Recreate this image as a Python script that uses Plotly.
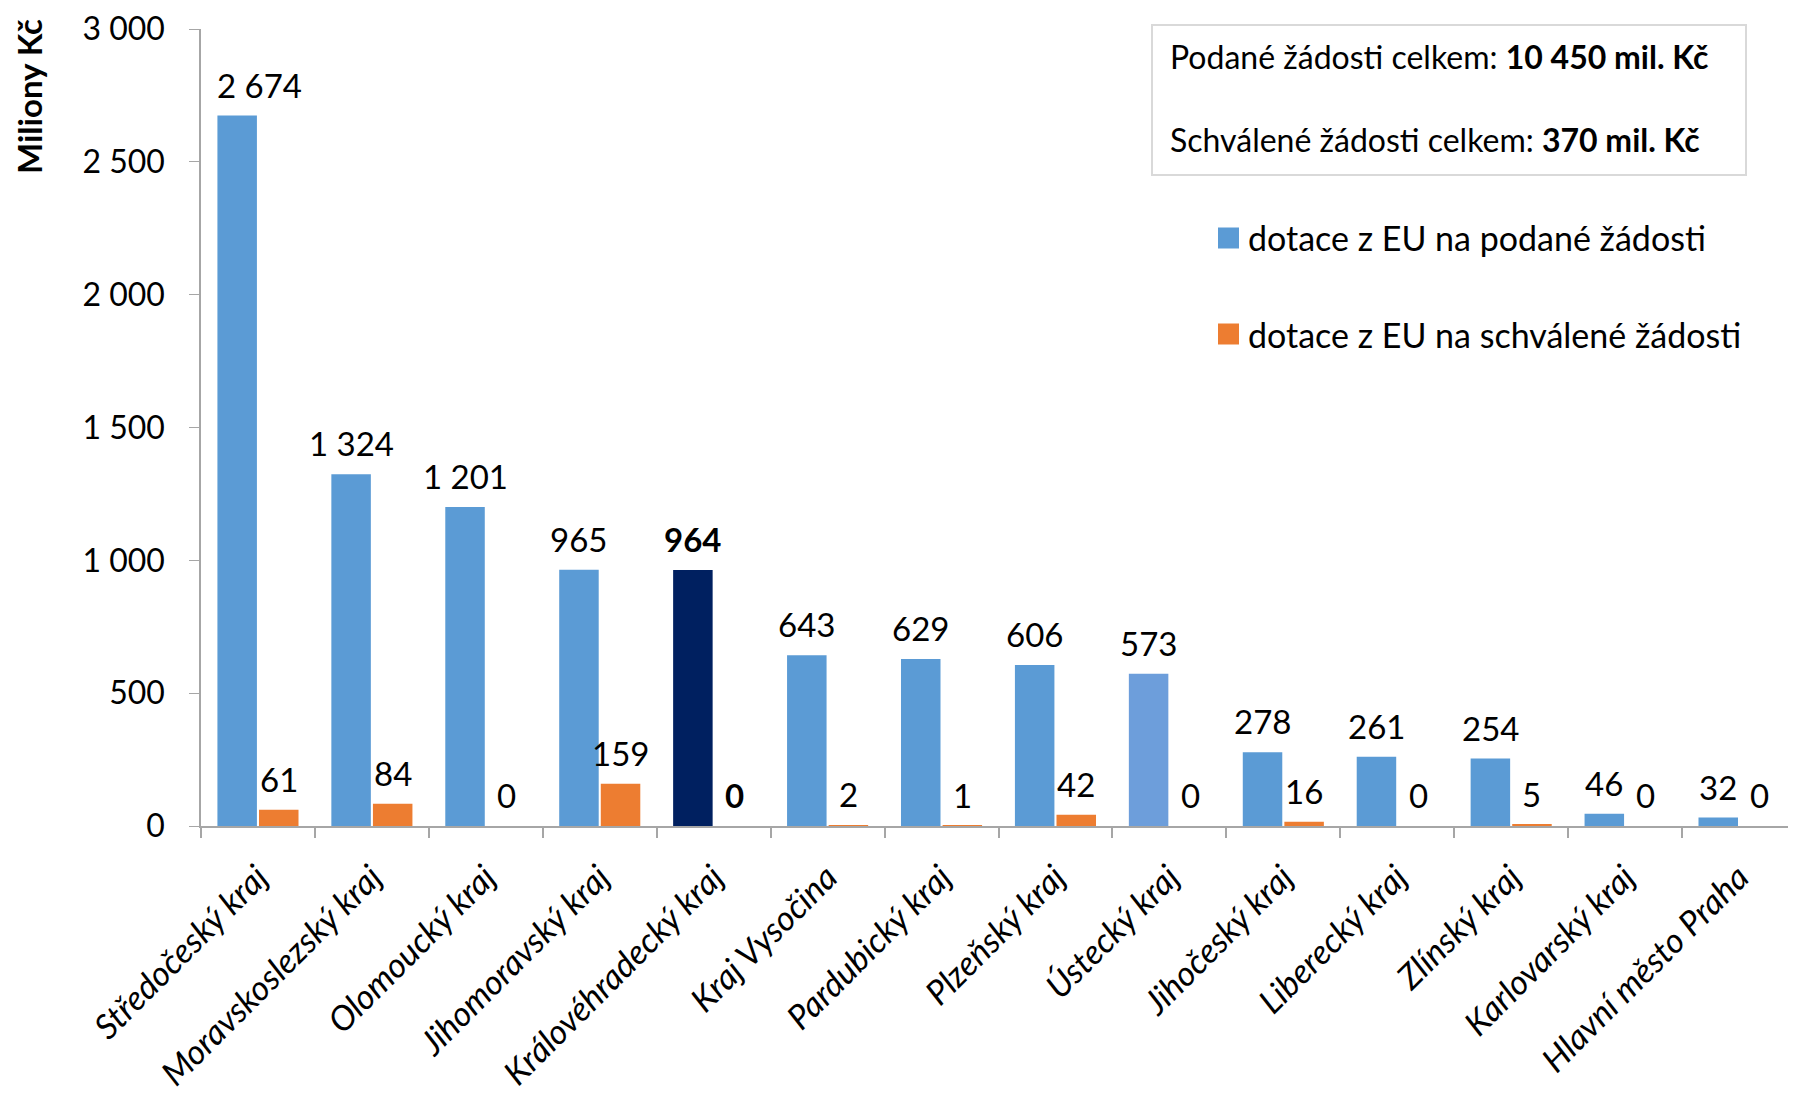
import plotly.graph_objects as go

categories = ["Středočeský kraj", "Moravskoslezský kraj", "Olomoucký kraj", "Jihomoravský kraj",
              "Královéhradecký kraj", "Kraj Vysočina", "Pardubický kraj", "Plzeňský kraj",
              "Ústecký kraj", "Jihočeský kraj", "Liberecký kraj", "Zlínský kraj",
              "Karlovarský kraj", "Hlavní město Praha"]
podane = [2674, 1324, 1201, 965, 964, 643, 629, 606, 573, 278, 261, 254, 46, 32]
schvalene = [61, 84, 0, 159, 0, 2, 1, 42, 0, 16, 0, 5, 0, 0]
tick_vals = [0, 500, 1000, 1500, 2000, 2500, 3000]
tick_text = ["0", "500", "1 000", "1 500", "2 000", "2 500", "3 000"]
series_names = ["dotace z EU na podané žádosti", "dotace z EU na schválené žádosti"]
highlight = "Královéhradecký kraj"

FONT = "Lato"
BLUE = "#5b9bd5"
ORANGE = "#ed7d31"
NAVY = "#002060"
LIGHT = "#6d9edb"
AX = "#a6a6a6"

W, H = 1796, 1100
ML, MR, MT, MB = 193, 8, 21, 282
BARGAP, GROUPGAP = 0.27, 0.05
plot_w = W - ML - MR
plot_h = H - MT - MB
cat_w = plot_w / len(categories)
slot = cat_w * (1 - BARGAP) / 2
offsets = [-slot / 2, slot / 2]


def px_x(px):
    # page-pixel x -> paper coordinate (page offset of 8 px)
    return (px - 8 - ML) / plot_w


def px_y(py):
    return (H - MB - (py - 8)) / plot_h


def fmt(v):
    return f"{v:,}".replace(",", " ")


def lab(v, c):
    s = fmt(v)
    return f"<b>{s}</b>" if c == highlight else s


blue_colors = [NAVY if c == highlight else (LIGHT if c == "Ústecký kraj" else BLUE) for c in categories]

fig = go.Figure()
fig.add_trace(go.Bar(x=categories, y=podane, name=series_names[0],
                     marker=dict(color=blue_colors, line=dict(width=0)), showlegend=False))
fig.add_trace(go.Bar(x=categories, y=schvalene, name=series_names[1],
                     marker=dict(color=ORANGE, line=dict(width=0)), showlegend=False))

# data labels
for si, (series, off) in enumerate(zip([podane, schvalene], offsets)):
    for i, (c, v) in enumerate(zip(categories, series)):
        nudge = 22 if (si == 0 and i == 0) else 0  # first label moved clear of the axis
        fig.add_annotation(x=c, y=v, text=lab(v, c), showarrow=False, xshift=off + nudge, yshift=31,
                           xanchor="center", yanchor="middle",
                           font=dict(family=FONT, size=33, color="black"))

fig.update_layout(
    width=W, height=H,
    margin=dict(l=ML, r=MR, t=MT, b=MB, autoexpand=False),
    paper_bgcolor="white", plot_bgcolor="white",
    barmode="group", bargap=BARGAP, bargroupgap=GROUPGAP,
    font=dict(family=FONT, size=30, color="black"),
    showlegend=False,
    xaxis=dict(range=[-0.5, 13.5], showline=True, linecolor=AX, linewidth=2,
               ticks="outside", tickson="boundaries", ticklen=10, tickcolor=AX, tickwidth=1.5,
               tickangle=-45, tickfont=dict(family=FONT, size=34, style="italic"),
               ticklabelstandoff=16, showgrid=False, automargin=False),
    yaxis=dict(range=[0, 3000], tickvals=tick_vals, ticktext=tick_text, showline=True,
               linecolor=AX, linewidth=1.5, ticks="outside", ticklen=10, tickcolor=AX,
               tickfont=dict(family=FONT, size=32), ticklabelstandoff=18,
               ticklabeloverflow="allow", showgrid=False, zeroline=False, automargin=False),
)

# summary box
fig.add_shape(type="rect", xref="paper", yref="paper", x0=px_x(1152), x1=px_x(1746),
              y0=px_y(175), y1=px_y(25),
              line=dict(color="#d9d9d9", width=2), fillcolor="white", layer="below")
fig.add_annotation(xref="paper", yref="paper", x=px_x(1168), y=px_y(56), xanchor="left", yanchor="middle",
                   text="Podané žádosti celkem: <b>10 450 mil. Kč</b>", showarrow=False,
                   font=dict(family=FONT, size=32))
fig.add_annotation(xref="paper", yref="paper", x=px_x(1168), y=px_y(140), xanchor="left", yanchor="middle",
                   text="Schválené žádosti celkem: <b>370 mil. Kč</b>", showarrow=False,
                   font=dict(family=FONT, size=32))

# legend (drawn manually for full-size swatches)
legend_py = [238, 334]
for name, col, py in zip(series_names, [BLUE, ORANGE], legend_py):
    fig.add_shape(type="rect", xref="paper", yref="paper", x0=px_x(1218), x1=px_x(1239),
                  y0=px_y(py + 10.5), y1=px_y(py - 10.5), line=dict(width=0), fillcolor=col)
    fig.add_annotation(xref="paper", yref="paper", x=px_x(1246), y=px_y(py), xanchor="left",
                       yanchor="middle", text=name, showarrow=False,
                       font=dict(family=FONT, size=34, color="black"))

# y axis title
fig.add_annotation(xref="paper", yref="paper", x=px_x(29), y=px_y(97), xanchor="center", yanchor="middle",
                   text="<b>Miliony Kč</b>", textangle=-90, showarrow=False,
                   font=dict(family=FONT, size=33))

fig.write_html("out.html")
